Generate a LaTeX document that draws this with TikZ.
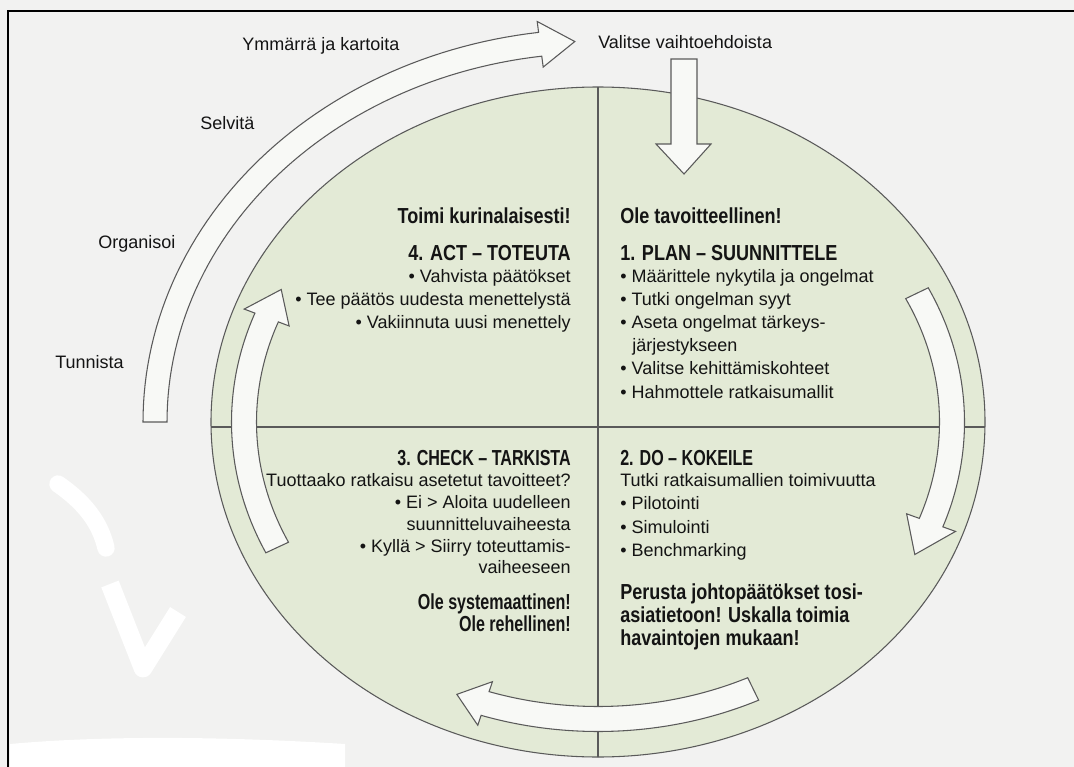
\documentclass[tikz,border=0pt]{standalone}
\usepackage{fontspec}
\setmainfont{Liberation Sans}
\newfontfamily\condfont{Liberation Sans}[FakeStretch=0.83]
\newfontfamily\narrowfont{Liberation Sans}[FakeStretch=0.74]
\definecolor{bg}{HTML}{F2F2F1}
\definecolor{ellfill}{HTML}{E3EAD6}
\definecolor{arrfill}{HTML}{F8F9F6}
\definecolor{linegray}{HTML}{5A5A5A}
\definecolor{ink}{HTML}{141414}
\tikzset{
  arr/.style={fill=arrfill, draw=linegray, line width=0.8pt, line join=miter},
  body/.style={font=\fontsize{13.5}{16}\selectfont, text=ink, inner sep=0pt},
  head/.style={font=\condfont\bfseries\fontsize{16.3}{19}\selectfont, text=ink, inner sep=0pt},
  headn/.style={font=\narrowfont\bfseries\fontsize{16.3}{19}\selectfont, text=ink, inner sep=0pt},
  rt/.style={anchor=base east},
  lt/.style={anchor=base west},
  erased/.style={white, line cap=round, line join=round}
}
% #1 a, #2 b, #3 start angle, #4 head base angle, #5 tip angle, #6 half body width, #7 half head width
\newcommand{\ringarrow}[7]{%
  \filldraw[arr] plot[domain=#3:#4, samples=60, variable=\t] ({598+(#1+#6)*cos(\t)},{422+(#2+#6)*sin(\t)})
    -- ({598+(#1+#7)*cos(#4)},{422+(#2+#7)*sin(#4)})
    -- ({598+#1*cos(#5)},{422+#2*sin(#5)})
    -- ({598+(#1-#7)*cos(#4)},{422+(#2-#7)*sin(#4)})
    -- plot[domain=#4:#3, samples=60, variable=\t] ({598+(#1-#6)*cos(\t)},{422+(#2-#6)*sin(\t)})
    -- cycle;}
\begin{document}
\begin{tikzpicture}[x=0.75pt,y=-0.75pt]
\useasboundingbox (0,0) rectangle (1074,767);
\fill[bg] (0,0) rectangle (1074,767);

% erased (white) patches at the lower left
\draw[erased, line width=13pt] (58,484) .. controls (84,502) and (100,522) .. (106,548);
\draw[erased, line width=14pt, line cap=butt] (110,584) -- (143,668) -- (178,612);
\fill[white] (10,744) .. controls (120,734) and (250,738) .. (345,744) -- (345,767) -- (10,767) -- cycle;

\draw[black, line width=1.2pt] (8,767) -- (8,11) -- (1074,11);

% ellipse with quadrants
\filldraw[fill=ellfill, draw=linegray, line width=0.8pt] (598,422) ellipse [x radius=290.25pt, y radius=251.25pt];
\begin{scope}
  \clip (598,422) ellipse [x radius=290.25pt, y radius=251.25pt];
  \draw[linegray, line width=0.8pt] (598,80) -- (598,770) (200,427) -- (1000,427);
\end{scope}

% big outer arrow
\ringarrow{443}{381}{180}{262.5}{267}{12}{23}
% down arrow
\filldraw[arr] (671,59) -- (697,59) -- (697,144) -- (711,144) -- (684,174) -- (656,144) -- (671,144) -- cycle;
% inner cycle arrows
\ringarrow{354}{297}{-25.7}{19.8}{26.5}{12.5}{26}
\ringarrow{354}{297}{64}{108.6}{113.5}{12.5}{23}
\ringarrow{354}{297}{155}{200.6}{206.5}{12.5}{24}

% outer labels
\node[body,lt] (ymm) at (242,51) {Ymmärrä ja kartoita};
\node[body,lt] (val) at (598,49) {Valitse vaihtoehdoista};
\node[body,lt] (sel) at (200,129) {Selvitä};
\node[body,lt] (org) at (98,248) {Organisoi};
\node[body,lt] (tun) at (55,368) {Tunnista};

% quadrant 4 (top left)
\node[head,rt] (a1) at (571,223) {Toimi kurinalaisesti!};
\node[head,rt] (a2) at (571,260) {4. ACT – TOTEUTA};
\node[body,rt] (a3) at (571,282) {• Vahvista päätökset};
\node[body,rt] (a4) at (571,305) {• Tee päätös uudesta menettelystä};
\node[body,rt] (a5) at (571,328) {• Vakiinnuta uusi menettely};

% quadrant 1 (top right)
\node[head,lt] (p1) at (620,223) {Ole tavoitteellinen!};
\node[head,lt] (p2) at (620,260) {1. PLAN – SUUNNITTELE};
\node[body,lt] (p3) at (620,282) {• Määrittele nykytila ja ongelmat};
\node[body,lt] (p4) at (620,305) {• Tutki ongelman syyt};
\node[body,lt] (p5) at (620,328) {• Aseta ongelmat tärkeys-};
\node[body,lt] (p6) at (632,351) {järjestykseen};
\node[body,lt] (p7) at (620,374) {• Valitse kehittämiskohteet};
\node[body,lt] (p8) at (620,398) {• Hahmottele ratkaisumallit};

% quadrant 3 (bottom left)
\node[headn,rt] (c1) at (571,465) {3. CHECK – TARKISTA};
\node[body,rt] (c2) at (571,486) {Tuottaako ratkaisu asetetut tavoitteet?};
\node[body,rt] (c3) at (571,508) {• Ei > Aloita uudelleen};
\node[body,rt] (c4) at (571,530) {suunnitteluvaiheesta};
\node[body,rt] (c5) at (571,552) {• Kyllä > Siirry toteuttamis-};
\node[body,rt] (c6) at (571,573) {vaiheeseen};
\node[headn,rt] (c7) at (571,609) {Ole systemaattinen!};
\node[headn,rt] (c8) at (571,631) {Ole rehellinen!};

% quadrant 2 (bottom right)
\node[headn,lt] (d1) at (620,465) {2. DO – KOKEILE};
\node[body,lt] (d2) at (620,486) {Tutki ratkaisumallien toimivuutta};
\node[body,lt] (d3) at (620,509) {• Pilotointi};
\node[body,lt] (d4) at (620,533) {• Simulointi};
\node[body,lt] (d5) at (620,556) {• Benchmarking};
\node[head,lt] (d6) at (620,599) {Perusta johtopäätökset tosi-};
\node[head,lt] (d7) at (620,622) {asiatietoon! Uskalla toimia};
\node[head,lt] (d8) at (620,645) {havaintojen mukaan!};
\end{tikzpicture}
\end{document}
